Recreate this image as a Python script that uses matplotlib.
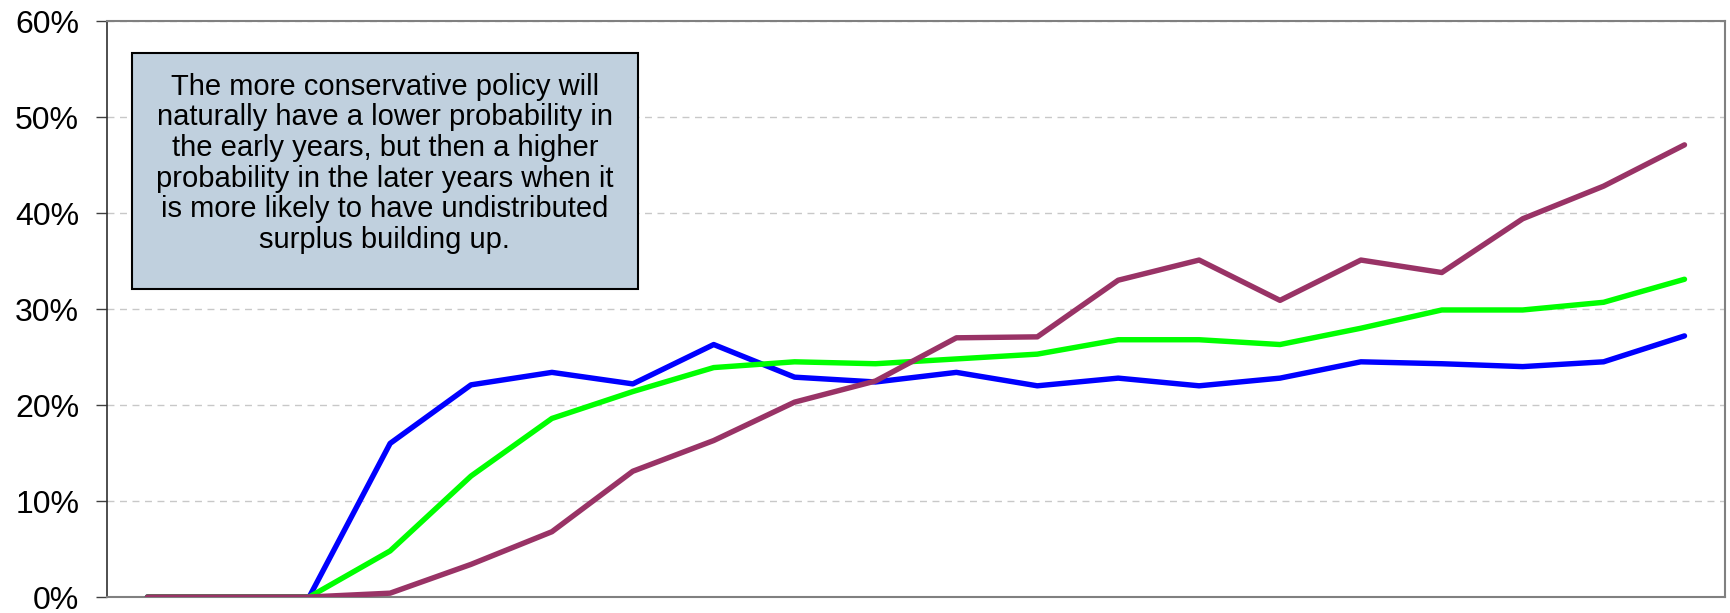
import matplotlib.pyplot as plt
from matplotlib.patches import Rectangle
from matplotlib.ticker import FuncFormatter

plt.rcParams["font.family"] = ["Liberation Sans", "DejaVu Sans"]

# probability by projection year (20 years), three bonus policies
years = list(range(1, 21))
blue_policy = [0.0, 0.0, 0.0, 16.0, 22.1, 23.4, 22.2, 26.3, 22.9, 22.4,
               23.4, 22.0, 22.8, 22.0, 22.8, 24.5, 24.3, 24.0, 24.5, 27.2]
green_policy = [0.0, 0.0, 0.0, 4.8, 12.6, 18.6, 21.4, 23.9, 24.5, 24.3,
                24.8, 25.3, 26.8, 26.8, 26.3, 28.0, 29.9, 29.9, 30.7, 33.1]
conservative_policy = [0.0, 0.0, 0.0, 0.4, 3.4, 6.8, 13.1, 16.3, 20.3, 22.5,
                       27.0, 27.1, 33.0, 35.1, 30.9, 35.1, 33.8, 39.4, 42.8, 47.1]
y_ticks = [0, 10, 20, 30, 40, 50, 60]

note = ("The more conservative policy will\n"
        "naturally have a lower probability in\n"
        "the early years, but then a higher\n"
        "probability in the later years when it\n"
        "is more likely to have undistributed\n"
        "surplus building up.")

fig = plt.figure(figsize=(17.31, 6.13), dpi=100)
ax = fig.add_axes([0.0618, 0.0261, 0.9347, 0.9396])

x = list(range(len(years)))
ax.plot(x, blue_policy, color="#0000FF", lw=3.9, solid_capstyle="round", zorder=3)
ax.plot(x, green_policy, color="#00FF00", lw=3.9, solid_capstyle="round", zorder=3)
ax.plot(x, conservative_policy, color="#993366", lw=3.9, solid_capstyle="round", zorder=4)

ax.set_xlim(-0.5, len(years) - 0.5)
ax.set_ylim(0, 60)
ax.set_yticks(y_ticks)
ax.yaxis.set_major_formatter(FuncFormatter(lambda v, _: f"{v:.0f}%"))
ax.set_xticks([])
ax.tick_params(axis="y", length=8, width=1, color="#404040", labelsize=23, pad=12)
ax.grid(axis="y", color="#C8C8C8", linestyle=(0, (5, 4)), lw=1)
ax.set_axisbelow(True)

for side in ("top", "right", "bottom"):
    ax.spines[side].set_color("#808080")
    ax.spines[side].set_linewidth(1.5)
ax.spines["left"].set_color("#303030")
ax.spines["left"].set_linewidth(1.2)

# annotation box, text sits a little above its centre
ax.add_patch(Rectangle((0.0155, 0.535), 0.3125, 0.409, transform=ax.transAxes,
                       facecolor="#C0D0DE", edgecolor="black", lw=1.5, zorder=5))
ax.text(0.1717, 0.753, note, transform=ax.transAxes, ha="center", va="center",
        fontsize=21, linespacing=1.12, zorder=6)

fig.savefig("out.png", dpi=100)
